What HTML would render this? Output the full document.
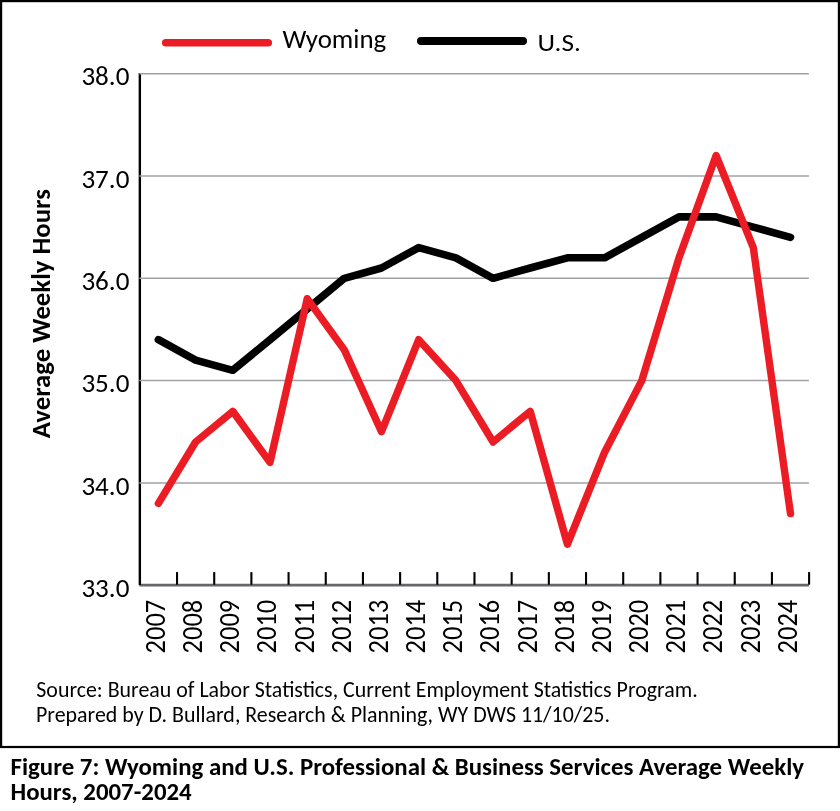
<!DOCTYPE html>
<html lang="en"><head><meta charset="utf-8"><title>Figure 7: Wyoming and U.S. Professional &amp; Business Services Average Weekly Hours, 2007-2024</title>
<style>
html,body{margin:0;padding:0;background:#fff;}
body{width:840px;height:811px;overflow:hidden;}
svg{display:block;will-change:transform;}
text{font-family:Carlito,"Liberation Sans",sans-serif;fill:#000;font-size-adjust:0.4775;}
text.b{font-weight:bold;font-size-adjust:0.4849;}
</style></head><body>
<svg width="840" height="811" viewBox="0 0 840 811">
<rect x="0" y="0" width="840" height="811" fill="#fff"/>
<rect x="1.1" y="1.1" width="837.8" height="745.9" fill="none" stroke="#000" stroke-width="2.2"/>
<line x1="139.35" y1="585.20" x2="808.90" y2="585.20" stroke="#66676b" stroke-width="2.7"/>
<line x1="139.85" y1="72.90" x2="139.85" y2="585.00" stroke="#000" stroke-width="2.4"/>
<g stroke="#a1a2a6" stroke-width="1.5">
<line x1="139.35" y1="73.65" x2="808.90" y2="73.65"/>
<line x1="139.35" y1="175.96" x2="808.90" y2="175.96"/>
<line x1="139.35" y1="278.27" x2="808.90" y2="278.27"/>
<line x1="139.35" y1="380.58" x2="808.90" y2="380.58"/>
<line x1="139.35" y1="482.89" x2="808.90" y2="482.89"/>
</g>
<g stroke="#000" stroke-width="2.1">
<line x1="177.03" y1="572.1" x2="177.03" y2="584.70"/>
<line x1="214.21" y1="572.1" x2="214.21" y2="584.70"/>
<line x1="251.39" y1="572.1" x2="251.39" y2="584.70"/>
<line x1="288.57" y1="572.1" x2="288.57" y2="584.70"/>
<line x1="325.75" y1="572.1" x2="325.75" y2="584.70"/>
<line x1="362.93" y1="572.1" x2="362.93" y2="584.70"/>
<line x1="400.11" y1="572.1" x2="400.11" y2="584.70"/>
<line x1="437.29" y1="572.1" x2="437.29" y2="584.70"/>
<line x1="474.48" y1="572.1" x2="474.48" y2="584.70"/>
<line x1="511.66" y1="572.1" x2="511.66" y2="584.70"/>
<line x1="548.84" y1="572.1" x2="548.84" y2="584.70"/>
<line x1="586.02" y1="572.1" x2="586.02" y2="584.70"/>
<line x1="623.20" y1="572.1" x2="623.20" y2="584.70"/>
<line x1="660.38" y1="572.1" x2="660.38" y2="584.70"/>
<line x1="697.56" y1="572.1" x2="697.56" y2="584.70"/>
<line x1="734.74" y1="572.1" x2="734.74" y2="584.70"/>
<line x1="771.92" y1="572.1" x2="771.92" y2="584.70"/>
<line x1="809.10" y1="572.1" x2="809.10" y2="584.70"/>
</g>
<polyline points="158.4,339.7 195.6,360.1 232.8,370.3 270.0,339.7 307.2,309.0 344.3,278.3 381.5,268.0 418.7,247.6 455.9,257.8 493.1,278.3 530.2,268.0 567.4,257.8 604.6,257.8 641.8,237.3 679.0,216.9 716.1,216.9 753.3,227.1 790.5,237.3" fill="none" stroke="#000" stroke-width="7.6" stroke-linejoin="round" stroke-linecap="round"/>
<polyline points="158.4,503.4 195.6,442.0 232.8,411.3 270.0,462.4 307.2,298.7 344.3,349.9 381.5,431.7 418.7,339.7 455.9,380.6 493.1,442.0 530.2,411.3 567.4,544.3 604.6,452.2 641.8,380.6 679.0,257.8 716.1,155.5 753.3,247.6 790.5,513.6" fill="none" stroke="#ec1c24" stroke-width="7.4" stroke-linejoin="round" stroke-linecap="round"/>
<line x1="165.7" y1="42.7" x2="268.3" y2="42.7" stroke="#ec1c24" stroke-width="7.5" stroke-linecap="round"/>
<line x1="421" y1="41" x2="523" y2="41" stroke="#000" stroke-width="8" stroke-linecap="round"/>
<text x="282.6" y="48.1" font-size="26.5" textLength="103.6" lengthAdjust="spacingAndGlyphs">Wyoming</text>
<text x="537.5" y="51.1" font-size="25.5" textLength="43.4" lengthAdjust="spacingAndGlyphs">U.S.</text>
<text x="81.4" y="85.3" font-size="26.3" textLength="48" lengthAdjust="spacingAndGlyphs">38.0</text>
<text x="81.4" y="187.7" font-size="26.3" textLength="48" lengthAdjust="spacingAndGlyphs">37.0</text>
<text x="81.4" y="290.0" font-size="26.3" textLength="48" lengthAdjust="spacingAndGlyphs">36.0</text>
<text x="81.4" y="392.3" font-size="26.3" textLength="48" lengthAdjust="spacingAndGlyphs">35.0</text>
<text x="81.4" y="494.6" font-size="26.3" textLength="48" lengthAdjust="spacingAndGlyphs">34.0</text>
<text x="81.4" y="596.9" font-size="26.3" textLength="48" lengthAdjust="spacingAndGlyphs">33.0</text>
<text class="b" transform="translate(50 438.2) rotate(-90)" font-size="26.5" textLength="249" lengthAdjust="spacingAndGlyphs">Average Weekly Hours</text>
<text transform="translate(164.7 653.4) rotate(-90)" font-size="28.6" textLength="53.6" lengthAdjust="spacingAndGlyphs">2007</text>
<text transform="translate(201.9 653.4) rotate(-90)" font-size="28.6" textLength="53.6" lengthAdjust="spacingAndGlyphs">2008</text>
<text transform="translate(239.1 653.4) rotate(-90)" font-size="28.6" textLength="53.6" lengthAdjust="spacingAndGlyphs">2009</text>
<text transform="translate(276.3 653.4) rotate(-90)" font-size="28.6" textLength="53.6" lengthAdjust="spacingAndGlyphs">2010</text>
<text transform="translate(313.5 653.4) rotate(-90)" font-size="28.6" textLength="53.6" lengthAdjust="spacingAndGlyphs">2011</text>
<text transform="translate(350.6 653.4) rotate(-90)" font-size="28.6" textLength="53.6" lengthAdjust="spacingAndGlyphs">2012</text>
<text transform="translate(387.8 653.4) rotate(-90)" font-size="28.6" textLength="53.6" lengthAdjust="spacingAndGlyphs">2013</text>
<text transform="translate(425.0 653.4) rotate(-90)" font-size="28.6" textLength="53.6" lengthAdjust="spacingAndGlyphs">2014</text>
<text transform="translate(462.2 653.4) rotate(-90)" font-size="28.6" textLength="53.6" lengthAdjust="spacingAndGlyphs">2015</text>
<text transform="translate(499.4 653.4) rotate(-90)" font-size="28.6" textLength="53.6" lengthAdjust="spacingAndGlyphs">2016</text>
<text transform="translate(536.5 653.4) rotate(-90)" font-size="28.6" textLength="53.6" lengthAdjust="spacingAndGlyphs">2017</text>
<text transform="translate(573.7 653.4) rotate(-90)" font-size="28.6" textLength="53.6" lengthAdjust="spacingAndGlyphs">2018</text>
<text transform="translate(610.9 653.4) rotate(-90)" font-size="28.6" textLength="53.6" lengthAdjust="spacingAndGlyphs">2019</text>
<text transform="translate(648.1 653.4) rotate(-90)" font-size="28.6" textLength="53.6" lengthAdjust="spacingAndGlyphs">2020</text>
<text transform="translate(685.3 653.4) rotate(-90)" font-size="28.6" textLength="53.6" lengthAdjust="spacingAndGlyphs">2021</text>
<text transform="translate(722.4 653.4) rotate(-90)" font-size="28.6" textLength="53.6" lengthAdjust="spacingAndGlyphs">2022</text>
<text transform="translate(759.6 653.4) rotate(-90)" font-size="28.6" textLength="53.6" lengthAdjust="spacingAndGlyphs">2023</text>
<text transform="translate(796.8 653.4) rotate(-90)" font-size="28.6" textLength="53.6" lengthAdjust="spacingAndGlyphs">2024</text>
<text x="36.3" y="696.9" font-size="21.8" textLength="661.4" lengthAdjust="spacingAndGlyphs">Source: Bureau of Labor Statistics, Current Employment Statistics Program.</text>
<text x="36" y="721.9" font-size="21.8" textLength="574" lengthAdjust="spacingAndGlyphs">Prepared by D. Bullard, Research &amp; Planning, WY DWS 11/10/25.</text>
<text class="b" x="10.5" y="774.8" font-size="24" textLength="793.6" lengthAdjust="spacingAndGlyphs">Figure 7: Wyoming and U.S. Professional &amp; Business Services Average Weekly</text>
<text class="b" x="10.5" y="799.6" font-size="24" textLength="181.2" lengthAdjust="spacingAndGlyphs">Hours, 2007-2024</text>
</svg></body></html>
